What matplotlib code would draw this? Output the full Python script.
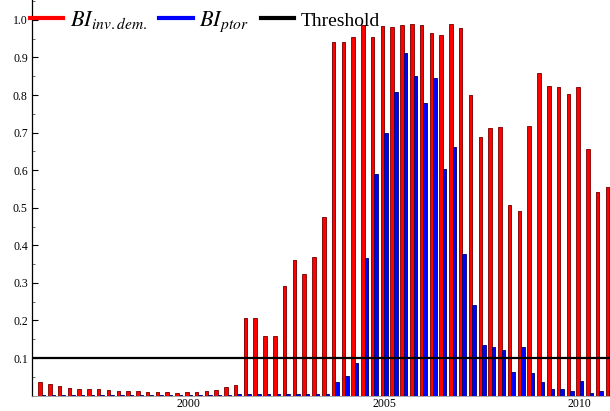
import numpy as np
import matplotlib
matplotlib.use("Agg")
import matplotlib.pyplot as plt
from matplotlib.lines import Line2D
from matplotlib.ticker import MultipleLocator

plt.rcParams['font.family'] = ['Liberation Serif', 'DejaVu Serif']
plt.rcParams['mathtext.fontset'] = 'stix'

# quarterly observations, first one at 1996.25
start_year = 1996.25
bi_inv_dem = [0.036, 0.031, 0.025, 0.020, 0.018, 0.018, 0.017, 0.016, 0.013, 0.013,
              0.013, 0.010, 0.009, 0.009, 0.007, 0.010, 0.010, 0.013, 0.016, 0.024,
              0.028, 0.206, 0.206, 0.159, 0.159, 0.292, 0.360, 0.323, 0.369, 0.475,
              0.941, 0.941, 0.954, 0.987, 0.954, 0.984, 0.981, 0.987, 0.989, 0.987,
              0.965, 0.961, 0.988, 0.978, 0.801, 0.688, 0.712, 0.714, 0.507, 0.492,
              0.717, 0.860, 0.824, 0.821, 0.802, 0.822, 0.656, 0.541, 0.555]
bi_ptor = [0.002, 0.002, 0.002, 0.002, 0.002, 0.002, 0.002, 0.002, 0.002, 0.002,
           0.002, 0.002, 0.002, 0.002, 0.002, 0.002, 0.002, 0.002, 0.002, 0.002,
           0.003, 0.003, 0.003, 0.003, 0.003, 0.005, 0.005, 0.003, 0.003, 0.003,
           0.037, 0.052, 0.086, 0.365, 0.590, 0.699, 0.808, 0.911, 0.851, 0.779,
           0.846, 0.603, 0.662, 0.377, 0.241, 0.135, 0.129, 0.121, 0.064, 0.129,
           0.060, 0.035, 0.017, 0.017, 0.011, 0.039, 0.007, 0.011, 0.014]
threshold = 0.1

t = start_year + 0.25 * np.arange(len(bi_inv_dem))
w = 0.09

fig = plt.figure(figsize=(6.1, 4.11), dpi=100)
ax = fig.add_axes([32 / 610, 15.4 / 411, 1 - 32 / 610, 1 - 15.4 / 411])

# gray shading on the right of each bar
ax.bar(t - w / 2 + 0.012, bi_inv_dem, w, color='#b0b0b0', zorder=1)
ax.bar(t + w / 2 + 0.012, bi_ptor, w, color='#b0b0b0', zorder=1)
ax.bar(t - w / 2, bi_inv_dem, w, color='#ff0000', edgecolor='#7a0000', linewidth=0.6, zorder=2)
ax.bar(t + w / 2, bi_ptor, w, color='#0000ff', edgecolor='#00006a', linewidth=0.6, zorder=3)
ax.axhline(threshold, color='black', lw=1.6, zorder=4)

ax.set_xlim(1996.0, 2010.77)
ax.set_ylim(0, 1.053)
ax.set_xticks([2000, 2005, 2010])
ax.set_yticks(np.arange(0.1, 1.01, 0.1))
ax.yaxis.set_minor_locator(MultipleLocator(0.05))
ax.set_yticklabels(['%.1f' % v for v in np.arange(0.1, 1.01, 0.1)])
ax.tick_params(axis='y', which='major', direction='in', length=4, width=0.8, labelsize=8.5, pad=3)
ax.tick_params(axis='y', which='minor', direction='in', length=2, width=0.6, color='#555555')
ax.tick_params(axis='x', length=0, labelsize=8.5, pad=2)

for s in ['top', 'right']:
    ax.spines[s].set_visible(False)
ax.spines['bottom'].set_color('#999999')
ax.spines['bottom'].set_linewidth(0.6)
ax.spines['left'].set_linewidth(0.9)

handles = [Line2D([], [], color='#ff0000', lw=3),
           Line2D([], [], color='#0000ff', lw=3),
           Line2D([], [], color='black', lw=3)]
labels = [r'$BI_{inv.dem.}$', r'$BI_{ptor}$', 'Threshold']
leg = fig.legend(handles, labels, loc='upper left', bbox_to_anchor=(30 / 610, 0.978),
                 ncol=3, frameon=False, fontsize=16, handlelength=1.5,
                 handletextpad=0.3, columnspacing=0.55, borderpad=0, borderaxespad=0)
leg.get_texts()[2].set_fontsize(14)

fig.savefig('out.png', dpi=100)
